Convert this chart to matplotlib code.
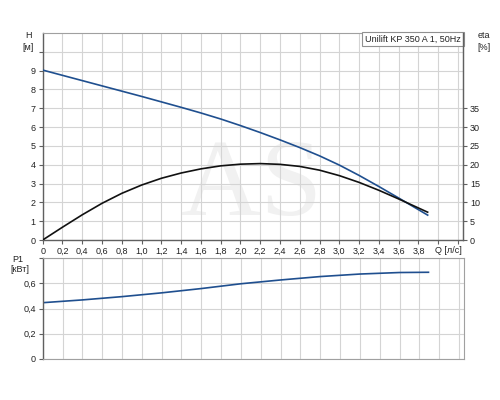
import matplotlib
matplotlib.use("Agg")
import matplotlib.pyplot as plt

plt.rcParams['font.family'] = ['Liberation Sans', 'DejaVu Sans']

# Data
q_pts = [0.0, 0.2, 0.4, 0.6, 0.8, 1.0, 1.2, 1.4, 1.6, 1.8, 2.0, 2.2, 2.4, 2.6,
         2.8, 3.0, 3.2, 3.4, 3.6, 3.8, 3.9]
head_m = [9.03, 8.75, 8.47, 8.19, 7.91, 7.63, 7.34, 7.05, 6.75, 6.43, 6.08, 5.71,
          5.32, 4.91, 4.47, 3.98, 3.43, 2.84, 2.23, 1.61, 1.30]
eta_pct = [0.0, 3.4, 6.7, 9.75, 12.4, 14.6, 16.4, 17.8, 18.9, 19.7, 20.15, 20.3,
           20.1, 19.55, 18.55, 17.1, 15.3, 13.2, 10.9, 8.5, 7.3]
q_p1 = [0.0, 0.4, 0.8, 1.2, 1.6, 2.0, 2.4, 2.8, 3.2, 3.6, 3.9]
p1_kw = [0.446, 0.468, 0.494, 0.524, 0.558, 0.596, 0.626, 0.653, 0.673, 0.685, 0.687]

q_ticks = [round(0.2 * i, 1) for i in range(22)]
q_labels = [f"{v:.1f}".replace('.', ',') if v <= 3.8 else '' for v in q_ticks]
q_labels[0] = '0'
h_ticks = list(range(0, 11))
h_labels = [str(v) if v <= 9 else '' for v in h_ticks]
eta_ticks = [0, 5, 10, 15, 20, 25, 30, 35]
p1_ticks = [0, 0.2, 0.4, 0.6, 0.8]
p1_labels = ['0', '0,2', '0,4', '0,6', '']
title = "Unilift KP 350 A 1, 50Hz"

BLUE = '#1f4f8f'
GRID = '#d4d4d4'
SPINE = '#606060'
TXT = '#222222'
FS = 6.5
LW = 1.2

fig = plt.figure(figsize=(5, 4), dpi=100)
ax = fig.add_axes([0.0854, 0.40, 0.926 - 0.0854, 0.9175 - 0.40])
axb = fig.add_axes([0.0854, 0.1025, 0.928 - 0.0854, 0.355 - 0.1025])

# Top axes
ax.set_xlim(0, 4.25)
ax.set_ylim(0, 11)
ax.set_xticks(q_ticks)
ax.set_xticklabels(q_labels, fontsize=FS)
ax.set_yticks(h_ticks)
ax.set_yticklabels(h_labels, fontsize=FS)
ax.grid(True, color=GRID, linewidth=0.8, zorder=0.6)
ax.set_axisbelow(True)
ax.tick_params(length=3, width=0.8, color=SPINE, pad=2, labelcolor=TXT)
for s in ['top', 'right']:
    ax.spines[s].set_color('#a0a0a0')
for s in ['left', 'bottom']:
    ax.spines[s].set_color(SPINE)
    ax.spines[s].set_linewidth(1.0)

ax.text(2.12, 0.08, 'AS', fontsize=80, color='#f1f1f1', family='Liberation Serif',
        ha='center', va='bottom', zorder=0.4)

ax.plot(q_pts, head_m, color=BLUE, linewidth=LW, zorder=3, solid_capstyle='butt')

ax2 = ax.twinx()
ax2.set_ylim(0, 55)
ax2.set_yticks(eta_ticks)
ax2.set_yticklabels([str(v) for v in eta_ticks], fontsize=FS)
ax2.tick_params(length=3, width=0.8, color=SPINE, pad=2, labelcolor=TXT)
ax2.spines['right'].set_color(SPINE)
ax2.spines['right'].set_linewidth(1.0)
for s in ['top', 'left', 'bottom']:
    ax2.spines[s].set_visible(False)
ax2.plot(q_pts, eta_pct, color='#111111', linewidth=LW, zorder=2, solid_capstyle='butt')

ax.text(4.1, -0.3, 'Q [л/с]', fontsize=FS, ha='center', va='top', color=TXT)
ax.text(0.995, 0.993, title, transform=ax.transAxes, ha='right', va='top', fontsize=FS,
        color=TXT,
        bbox=dict(boxstyle='square,pad=0.3', facecolor='white', edgecolor='#909090',
                  linewidth=0.8), zorder=5)

fig.text(28 / 500, 1 - 36 / 400, 'H', fontsize=FS, ha='center', va='center', color=TXT)
fig.text(28 / 500, 1 - 47 / 400, '[м]', fontsize=FS, ha='center', va='center', color=TXT)
fig.text(484 / 500, 1 - 36 / 400, 'eta', fontsize=FS, ha='center', va='center', color=TXT)
fig.text(484 / 500, 1 - 47 / 400, '[%]', fontsize=FS, ha='center', va='center', color=TXT)
fig.text(18 / 500, 1 - 259 / 400, 'P1', fontsize=FS, ha='center', va='center', color=TXT)
fig.text(20 / 500, 1 - 270 / 400, '[кВт]', fontsize=FS, ha='center', va='center', color=TXT)

# Bottom axes
axb.set_xlim(0, 4.25)
axb.set_ylim(0, 0.8)
axb.set_xticks(q_ticks)
axb.set_xticklabels([])
axb.tick_params(axis='x', length=0)
axb.set_yticks(p1_ticks)
axb.set_yticklabels(p1_labels, fontsize=FS)
axb.tick_params(axis='y', length=3, width=0.8, color=SPINE, pad=2, labelcolor=TXT)
axb.grid(True, color=GRID, linewidth=0.8)
axb.set_axisbelow(True)
for s in ['top', 'right', 'bottom']:
    axb.spines[s].set_color('#a0a0a0')
axb.spines['left'].set_color(SPINE)
axb.spines['left'].set_linewidth(1.0)
axb.plot(q_p1, p1_kw, color=BLUE, linewidth=LW, solid_capstyle='butt')

fig.savefig('out.png', dpi=100)
